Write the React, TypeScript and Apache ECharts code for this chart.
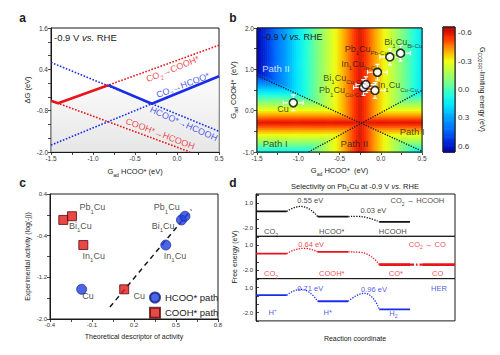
import React, { useEffect, useRef } from 'react';
import * as echarts from 'echarts';

const FONT = '"Liberation Sans", Arial, Helvetica, sans-serif';
const INK = '#1a1a1a';
const RED = '#e8151c';
const BLUE = '#1a2de8';

// ---------------- panel a : ΔG vs G_ad HCOO* ----------------
const aXLabels = [-1.5, -1.0, -0.5, 0, 0.5];
const aYLabels = [-2.0, -0.8, 0.4, 1.6];
const aCo2ToCooh = [[-1.416, -0.586], [0.5, 1.1]];
const aCoohToHcooh = [[-1.5, -0.51], [0.155, -2.0]];
const aCo2ToHcoo = [[-1.5, -1.8], [0.5, 0.2]];
const aHcooToHcooh = [[-1.5, 0.6], [0.5, -1.4]];
const aLimitCooh = [[-1.5, -0.51], [-1.416, -0.586], [-0.82, -0.06]];
const aLimitHcoo = [[-0.82, -0.06], [-0.3, -0.6], [0.5, 0.2]];
const aNotes = [
  { t: 'CO{s|2}→COOH*', x: -0.05, y: 0.41, r: 22, c: RED },
  { t: 'CO{s|2}→HCOO*', x: 0.07, y: -0.06, r: 21, c: BLUE },
  { t: 'HCOO*→HCOOH', x: 0.08, y: -1.18, r: -24, c: BLUE },
  { t: 'COOH*→HCOOH', x: -0.2, y: -1.47, r: -21, c: RED },
];

// ---------------- panel b : limiting-energy map ----------------
const bXLabels = [-1.5, -1.0, -0.5, 0, 0.5];
const bYLabels = [-1, 0, 1, 2];
const bHcooOptimum = [-0.25, -0.6]; // G_ad HCOO* at the volcano top, limiting energy there
const bCoohOptimum = [-0.28, -0.6]; // G_ad COOH* at the volcano top, limiting energy there
const bCell = [0.025, 0.05];
const bBoundary1 = [[-1.5, 0.85], [0.5, -0.98]];
const bBoundary2 = [[-0.876, -1.0], [0.5, 0.49]];
const bSiteHcoo = [-1.06, -0.21, -0.18, -0.07, -0.04, 0.11, 0.24];
const bSiteCooh = [0.19, 0.56, 0.63, 0.49, 0.93, 1.3, 1.39];
const bErr = [0.12, 0.19];
const bSiteNotes = [
  { t: 'Cu', x: -1.186, y: 0.03 },
  { t: 'Pb{s|1}Cu{s|Cu-Cu}', x: -0.485, y: 0.49 },
  { t: 'Bi{s|1}Cu{s|Cu-Cu}', x: -0.451, y: 0.8 },
  { t: 'In{s|1}Cu{s|Cu-Cu}', x: 0.207, y: 0.61 },
  { t: 'In{s|1}Cu{s|In-Cu}', x: -0.252, y: 1.14 },
  { t: 'Pb{s|1}Cu{s|Pb-Cu}', x: -0.176, y: 1.5 },
  { t: 'Bi{s|1}Cu{s|Bi-Cu}', x: 0.274, y: 1.66 },
];
const bPathNotes = [
  { t: 'Path II', x: -1.27, y: 1.02, c: '#ffffff' },
  { t: 'Path I', x: -1.28, y: -0.8, c: INK },
  { t: 'Path II', x: -0.32, y: -0.8, c: INK },
  { t: 'Path I', x: 0.38, y: -0.5, c: INK },
];
const cbRange = [-0.66, 0.66];
const cbLabels = [-0.6, -0.3, 0, 0.3, 0.6];
// colour stops evenly spaced from -0.66 (top) to 0.66 (bottom)
const CB_COLORS = [
  '#b00000', '#ff3000', '#ffa000', '#f0ff10', '#b0ff50', '#70ff90',
  '#20ffe0', '#00e0ff', '#00a0ff', '#0070ff', '#0030e0', '#0000b0',
];

// ---------------- panel c : activity vs descriptor ----------------
const cXTicks = [-0.4, -0.25, -0.1, 0.05, 0.2, 0.35, 0.5, 0.65, 0.8];
const cXLabels = [-0.4, -0.1, 0.2, 0.5, 0.8];
const cYLabels = [-2.0, -1.2, -0.4, 0.4];
const cHcooX = [-0.174, 0.427, 0.539, 0.564];
const cHcooY = [-1.43, -0.58, -0.098, -0.027];
const cCoohX = [0.13, -0.162, -0.305, -0.243];
const cCoohY = [-1.43, -0.58, -0.098, -0.027];
const cFit = [[0.028, -1.77], [0.61, 0.1]];
const cNotes = [
  { t: 'Pb{s|1}Cu', x: -0.097, y: 0.145 },
  { t: 'Bi{s|1}Cu', x: -0.183, y: -0.207 },
  { t: 'In{s|1}Cu', x: -0.088, y: -0.79 },
  { t: 'Cu', x: -0.129, y: -1.567 },
  { t: 'Pb{s|1}Cu', x: 0.434, y: 0.145 },
  { t: 'Bi{s|1}Cu', x: 0.408, y: -0.207 },
  { t: 'In{s|1}Cu', x: 0.493, y: -0.79 },
  { t: 'Cu', x: 0.238, y: -1.567 },
];

// ---------------- panel d : free-energy diagrams ----------------
const dXMax = 6.46;
const dYLabels = [1, -2];
const dFormicLevels = [[0, 1, 0], [2, 3, -0.62], [4, 5, -1.27]];
const dFormicPaths = [[[1, 0], [1.45, 0.6], [2, -0.62]], [[3, -0.62], [3.25, -0.59], [4, -1.27]]];
const dCoLevels = [[0, 1, 0], [2, 3, 0.22]];
const dCoThickLevels = [[4, 5, -1.31], [5.42, 6.46, -1.31]];
const dCoPaths = [[[1, 0], [1.55, 0.65], [2, 0.22]], [[3, 0.22], [3.4, 0.16], [4, -1.31]]];
const dCoDesorb = [[5, -1.31], [5.42, -1.31]];
const dHerLevels = [[0, 1, 0.1], [2, 3, -0.63], [4, 5, -1.6]];
const dHerPaths = [[[1, 0.1], [1.45, 0.81], [2, -0.63]], [[3, -0.63], [3.52, 0.33], [4, -1.6]]];
const dFormicNotes = [
  { t: '0.55 eV', x: 1.76, y: 1.29 },
  { t: '0.03 eV', x: 3.81, y: 0.17 },
  { t: 'CO{s|2} → HCOOH', x: 5.24, y: 1.29 },
  { t: 'CO{s|2}', x: 0.49, y: -2.44 },
  { t: 'HCOO*', x: 2.46, y: -2.44 },
  { t: 'HCOOH', x: 4.44, y: -2.44 },
];
const dCoNotes = [
  { t: '0.64 eV', x: 1.79, y: 1.08 },
  { t: 'CO{s|2} → CO', x: 5.56, y: 1.16 },
  { t: 'CO{s|2}', x: 0.49, y: -2.42 },
  { t: 'COOH*', x: 2.46, y: -2.42 },
  { t: 'CO*', x: 4.54, y: -2.42 },
  { t: 'CO', x: 5.9, y: -2.42 },
];
const dHerNotes = [
  { t: '0.71 eV', x: 1.76, y: 0.85 },
  { t: '0.96 eV', x: 3.83, y: 0.76 },
  { t: 'HER', x: 5.94, y: 0.88 },
  { t: 'H⁺', x: 0.54, y: -2.0 },
  { t: 'H*', x: 2.33, y: -2.0 },
  { t: 'H{s|2}', x: 4.46, y: -2.05 },
];

// ---------------- layout ----------------
const BOX = {
  a: { left: 51, top: 28, width: 168, height: 124 },
  b: { left: 257, top: 28, width: 165, height: 124 },
  cb: { left: 443, top: 27, width: 12, height: 125 },
  c: { left: 50, top: 194, width: 168, height: 125 },
  d1: { left: 256, top: 194, width: 199, height: 42.3 },
  d2: { left: 256, top: 236.3, width: 199, height: 42.3 },
  d3: { left: 256, top: 278.6, width: 199, height: 42.3 },
};

function rich(fs: number) {
  return {
    s: { fontFamily: FONT, fontSize: +(fs * 0.68).toFixed(1), lineHeight: fs * 0.8, verticalAlign: 'bottom' },
    i: { fontFamily: FONT, fontSize: fs, fontStyle: 'italic', lineHeight: fs * 1.5 },
  };
}

function fmt(vals: number[]) {
  return (v: number) =>
    vals.some((t) => Math.abs(t - v) < 1e-6) ? (Math.abs(v) < 1e-9 ? '0.0' : v.toFixed(1)) : '';
}

function axis(gi: number, o: any) {
  const lab: any = {
    show: o.labels !== undefined,
    fontSize: o.fs || 6.5,
    color: '#333',
    fontFamily: FONT,
    margin: 3,
    formatter: o.labels ? fmt(o.labels) : undefined,
  };
  if (o.labelValues) lab.customValues = o.labelValues;
  const tick: any = { show: o.ticks !== false, length: 3, inside: !!o.inside, lineStyle: { color: INK, width: 0.8 } };
  if (o.tickValues) tick.customValues = o.tickValues;
  const ax: any = {
    type: 'value',
    gridIndex: gi,
    min: o.min,
    max: o.max,
    position: o.position,
    inverse: !!o.inverse,
    axisLine: { show: o.line !== false, onZero: false, lineStyle: { color: INK, width: 1 } },
    axisTick: tick,
    axisLabel: lab,
    splitLine: { show: false },
  };
  if (o.interval !== undefined) ax.interval = o.interval;
  if (o.show === false) ax.show = false;
  if (o.name) {
    ax.name = o.name;
    ax.nameLocation = 'middle';
    ax.nameGap = o.nameGap;
    if (o.nameRotate !== undefined) ax.nameRotate = o.nameRotate;
    const nfs = o.nfs || 7.5;
    ax.nameTextStyle = { fontSize: nfs, fontFamily: FONT, color: INK, lineHeight: nfs * 1.5, rich: rich(nfs) };
  }
  return ax;
}

function line(gi: number, data: number[][], color: string, width: number, type: any, smooth: any = false, z = 3) {
  return {
    type: 'line', xAxisIndex: gi, yAxisIndex: gi, data, symbol: 'none', smooth, silent: true, z,
    lineStyle: { color, width, type },
  };
}

function notes(gi: number, items: any[], fs: number, color: string) {
  return {
    type: 'scatter', xAxisIndex: gi, yAxisIndex: gi, symbolSize: 0, silent: true, z: 10,
    data: items.map((it) => ({
      value: [it.x, it.y],
      label: { formatter: it.t, rotate: it.r || 0, color: it.c || color },
    })),
    label: { show: true, position: 'inside', fontSize: fs, fontFamily: FONT, color, lineHeight: fs * 1.5, rich: rich(fs) },
  };
}

function gtext(x: number, y: number, text: string, fs: number, extra: any = {}) {
  return {
    type: 'text', x, y, z: 100, silent: true, rotation: extra.rotation || 0,
    style: {
      text, fontSize: fs, fontFamily: FONT, fill: extra.fill || INK, fontWeight: extra.bold ? 'bold' : 'normal',
      align: extra.align || 'center', verticalAlign: 'middle', lineHeight: fs * 1.5,
      rich: {
        s: { fontSize: +(fs * 0.68).toFixed(1), lineHeight: fs * 0.8, verticalAlign: 'bottom', fontFamily: FONT },
        i: { fontSize: fs, fontStyle: 'italic', lineHeight: fs * 1.5, fontFamily: FONT },
      },
    },
  };
}

function frame(b: any) {
  return {
    type: 'rect', z: 90, silent: true,
    shape: { x: b.left, y: b.top, width: b.width, height: b.height },
    style: { fill: 'none', stroke: INK, lineWidth: 1 },
  };
}

function buildOption() {
  const series: any[] = [];

  // ---- panel a (grid 0)
  series.push({
    type: 'line', xAxisIndex: 0, yAxisIndex: 0, symbol: 'none', silent: true, z: 1,
    data: [...aLimitCooh, ...aLimitHcoo.slice(1)],
    lineStyle: { width: 0, opacity: 0 },
    areaStyle: {
      origin: 'start',
      color: new echarts.graphic.LinearGradient(0, 0, 0, 1, [
        { offset: 0, color: '#fbfbfb' },
        { offset: 1, color: '#dcdcdc' },
      ]),
    },
  });
  series.push(line(0, aCo2ToCooh, RED, 1.6, 'dotted'));
  series.push(line(0, aCoohToHcooh, RED, 1.6, 'dotted'));
  series.push(line(0, aCo2ToHcoo, BLUE, 1.6, 'dotted'));
  series.push(line(0, aHcooToHcooh, BLUE, 1.6, 'dotted'));
  series.push(line(0, aLimitCooh, RED, 2.6, 'solid', false, 4));
  series.push(line(0, aLimitHcoo, BLUE, 2.6, 'solid', false, 4));
  series.push(notes(0, aNotes, 9, RED));

  // ---- panel b (grid 1)
  const heat: number[][] = [];
  for (let x = -1.5 + bCell[0] / 2; x < 0.5; x += bCell[0]) {
    for (let y = -1.0 + bCell[1] / 2; y < 2.0; y += bCell[1]) {
      const viaHcoo = bHcooOptimum[1] + Math.abs(x - bHcooOptimum[0]);
      const viaCooh = bCoohOptimum[1] + Math.abs(y - bCoohOptimum[0]);
      heat.push([x, y, Math.min(viaHcoo, viaCooh)]);
    }
  }
  const heatIdx = series.length;
  series.push({
    type: 'custom', xAxisIndex: 1, yAxisIndex: 1, silent: true, z: 1, clip: true,
    data: heat, encode: { x: 0, y: 1 },
    renderItem: (params: any, api: any) => {
      const x = api.value(0), y = api.value(1);
      const p1 = api.coord([x - bCell[0] / 2, y - bCell[1] / 2]);
      const p2 = api.coord([x + bCell[0] / 2, y + bCell[1] / 2]);
      return {
        type: 'rect',
        shape: {
          x: Math.min(p1[0], p2[0]), y: Math.min(p1[1], p2[1]),
          width: Math.abs(p2[0] - p1[0]) + 0.6, height: Math.abs(p2[1] - p1[1]) + 0.6,
        },
        style: { fill: api.visual('color') },
      };
    },
  });
  series.push(line(1, bBoundary1, INK, 1.3, 'dotted'));
  series.push(line(1, bBoundary2, INK, 1.3, 'dotted'));
  const sites = bSiteHcoo.map((x, i) => [x, bSiteCooh[i]]);
  series.push({
    type: 'custom', xAxisIndex: 1, yAxisIndex: 1, silent: true, z: 5,
    data: sites, encode: { x: 0, y: 1 },
    renderItem: (params: any, api: any) => {
      const x = api.value(0), y = api.value(1);
      const l = api.coord([x - bErr[0], y]), r = api.coord([x + bErr[0], y]);
      const t = api.coord([x, y + bErr[1]]), b = api.coord([x, y - bErr[1]]);
      const c = 2.2;
      const st = { stroke: '#ffffff', lineWidth: 1.2 };
      const seg = (x1: number, y1: number, x2: number, y2: number) => ({ type: 'line', shape: { x1, y1, x2, y2 }, style: st });
      return {
        type: 'group',
        children: [
          seg(l[0], l[1], r[0], r[1]), seg(t[0], t[1], b[0], b[1]),
          seg(l[0], l[1] - c, l[0], l[1] + c), seg(r[0], r[1] - c, r[0], r[1] + c),
          seg(t[0] - c, t[1], t[0] + c, t[1]), seg(b[0] - c, b[1], b[0] + c, b[1]),
        ],
      };
    },
  });
  series.push({
    type: 'scatter', xAxisIndex: 1, yAxisIndex: 1, silent: true, z: 6, data: sites,
    symbol: 'circle', symbolSize: 8,
    itemStyle: { color: '#ffffff', borderColor: '#000', borderWidth: 1.6 },
  });
  series.push(notes(1, bSiteNotes, 9, INK));
  series.push(notes(1, bPathNotes, 9.5, INK));

  // ---- colour bar (grid 2)
  const cbStep = 0.012;
  const cb: number[][] = [];
  for (let v = cbRange[0] + cbStep / 2; v < cbRange[1]; v += cbStep) cb.push([0.5, v, v]);
  const cbIdx = series.length;
  series.push({
    type: 'custom', xAxisIndex: 2, yAxisIndex: 2, silent: true, z: 1,
    data: cb, encode: { x: 0, y: 1 },
    renderItem: (params: any, api: any) => {
      const v = api.value(1);
      const p1 = api.coord([0, v - cbStep / 2]);
      const p2 = api.coord([1, v + cbStep / 2]);
      return {
        type: 'rect',
        shape: {
          x: Math.min(p1[0], p2[0]), y: Math.min(p1[1], p2[1]),
          width: Math.abs(p2[0] - p1[0]), height: Math.abs(p2[1] - p1[1]) + 0.6,
        },
        style: { fill: api.visual('color') },
      };
    },
  });

  // ---- panel c (grid 3)
  series.push(line(3, cFit, INK, 1.5, [5, 4], false, 2));
  series.push({
    name: 'HCOO* path', type: 'scatter', xAxisIndex: 3, yAxisIndex: 3, z: 5, silent: true,
    data: cHcooX.map((x, i) => [x, cHcooY[i]]),
    symbol: 'circle', symbolSize: 10,
    itemStyle: { color: '#1f3fe0', borderColor: '#0b1a7a', borderWidth: 0.8 },
  });
  series.push({
    name: 'COOH* path', type: 'scatter', xAxisIndex: 3, yAxisIndex: 3, z: 5, silent: true,
    data: cCoohX.map((x, i) => [x, cCoohY[i]]),
    symbol: 'rect', symbolSize: 9,
    itemStyle: { color: '#e31a1a', borderColor: '#5a0a0a', borderWidth: 1 },
  });
  series.push(notes(3, cNotes, 9, INK));

  // ---- panel d (grids 4,5,6)
  const levels = (gi: number, arr: number[][], color: string, w: number) =>
    arr.forEach((l) => series.push(line(gi, [[l[0], l[2]], [l[1], l[2]]], color, w, 'solid')));
  const paths = (gi: number, arr: number[][][], color: string) =>
    arr.forEach((p) => series.push(line(gi, p, color, 1.3, 'dotted', 0.55)));
  levels(4, dFormicLevels, '#111', 1.8);
  paths(4, dFormicPaths, '#111');
  series.push(notes(4, dFormicNotes, 7.5, '#111'));
  levels(5, dCoLevels, RED, 1.8);
  levels(5, dCoThickLevels, RED, 2.8);
  paths(5, dCoPaths, RED);
  series.push(line(5, dCoDesorb, RED, 2.4, [4, 2, 1.5, 2]));
  series.push(notes(5, dCoNotes, 7.5, RED));
  levels(6, dHerLevels, BLUE, 1.8);
  paths(6, dHerPaths, BLUE);
  series.push(notes(6, dHerNotes, 7.5, BLUE));

  const xAxis = [
    axis(0, { min: -1.5, max: 0.5, interval: 0.25, labels: aXLabels, name: 'G{s|ad} HCOO* (eV)', nameGap: 14 }),
    axis(1, { min: -1.5, max: 0.5, interval: 0.25, labels: bXLabels, name: 'G{s|ad} HCOO*  (eV)', nameGap: 13 }),
    axis(2, { min: 0, max: 1, show: false }),
    axis(3, { min: -0.4, max: 0.8, tickValues: cXTicks, labelValues: cXLabels, labels: cXLabels, fs: 6, name: 'Theoretical descriptor of activity', nameGap: 12, nfs: 7 }),
    axis(4, { min: 0, max: dXMax, show: false }),
    axis(5, { min: 0, max: dXMax, show: false }),
    axis(6, { min: 0, max: dXMax, show: false }),
  ];
  const yAxis = [
    axis(0, { min: -2.0, max: 1.6, interval: 0.4, labels: aYLabels, name: 'ΔG (eV)', nameGap: 14, nameRotate: 90 }),
    axis(1, { min: -1.0, max: 2.0, interval: 0.5, labels: bYLabels, name: 'G{s|ad} COOH*  (eV)', nameGap: 14, nameRotate: 90 }),
    axis(2, {
      min: cbRange[0], max: cbRange[1], inverse: true, position: 'right', line: false, inside: true,
      tickValues: cbLabels, labelValues: cbLabels, labels: cbLabels, fs: 8,
      name: 'G{s|CO2RR}-limiting energy (eV)', nameGap: 22, nameRotate: -90, nfs: 7,
    }),
    axis(3, { min: -2.0, max: 0.4, interval: 0.4, labels: cYLabels, fs: 6, name: 'Experimental activity (log(-j))', nameGap: 17, nameRotate: 90, nfs: 7 }),
    axis(4, { min: -3, max: 2.1, interval: 1, labels: dYLabels, inside: true, fs: 6 }),
    axis(5, { min: -3, max: 2.1, interval: 1, labels: dYLabels, inside: true, fs: 6 }),
    axis(6, { min: -3, max: 2.1, interval: 1, labels: dYLabels, inside: true, fs: 6 }),
  ];

  const gridOf = (b: any) => ({ ...b, show: true, borderColor: INK, borderWidth: 1, backgroundColor: 'transparent', containLabel: false });

  return {
    animation: false,
    backgroundColor: '#ffffff',
    textStyle: { fontFamily: FONT },
    grid: [gridOf(BOX.a), gridOf(BOX.b), gridOf(BOX.cb), gridOf(BOX.c), gridOf(BOX.d1), gridOf(BOX.d2), gridOf(BOX.d3)],
    xAxis,
    yAxis,
    visualMap: {
      type: 'continuous', show: false, min: cbRange[0], max: cbRange[1], dimension: 2,
      seriesIndex: [heatIdx, cbIdx], inRange: { color: CB_COLORS },
    },
    legend: {
      left: 149, top: 291.5, orient: 'vertical', itemGap: 3.3, itemWidth: 10, itemHeight: 10, padding: 0,
      selectedMode: false, textStyle: { fontSize: 9.5, fontFamily: FONT, color: INK },
      data: ['HCOO* path', 'COOH* path'],
    },
    graphic: [
      frame(BOX.b),
      frame(BOX.cb),
      gtext(22.7, 18.3, 'a', 12, { bold: true }),
      gtext(233, 18.3, 'b', 12, { bold: true }),
      gtext(22.7, 183.3, 'c', 12, { bold: true }),
      gtext(233, 183.3, 'd', 12, { bold: true }),
      gtext(54, 37, '-0.9 V {i|vs.} RHE', 9.5, { align: 'left' }),
      gtext(263, 37, '-0.9 V {i|vs.} RHE', 9, { align: 'left' }),
      gtext(355, 186, 'Selectivity on Pb{s|1}Cu at -0.9 V {i|vs.} RHE', 7.5),
      gtext(355, 338, 'Reaction coordinate', 7),
      gtext(234, 257, 'Free energy (eV)', 7, { rotation: Math.PI / 2 }),
    ],
    series,
  };
}

export default function App() {
  const ref = useRef<HTMLDivElement>(null);
  useEffect(() => {
    if (!ref.current) return;
    const chart = echarts.init(ref.current, null, { renderer: 'svg' });
    chart.setOption(buildOption() as any);
    return () => chart.dispose();
  }, []);
  return (
    <div
      ref={ref}
      style={{ position: 'absolute', left: 0, top: 0, width: 500, height: 355, background: '#fff' }}
    />
  );
}
